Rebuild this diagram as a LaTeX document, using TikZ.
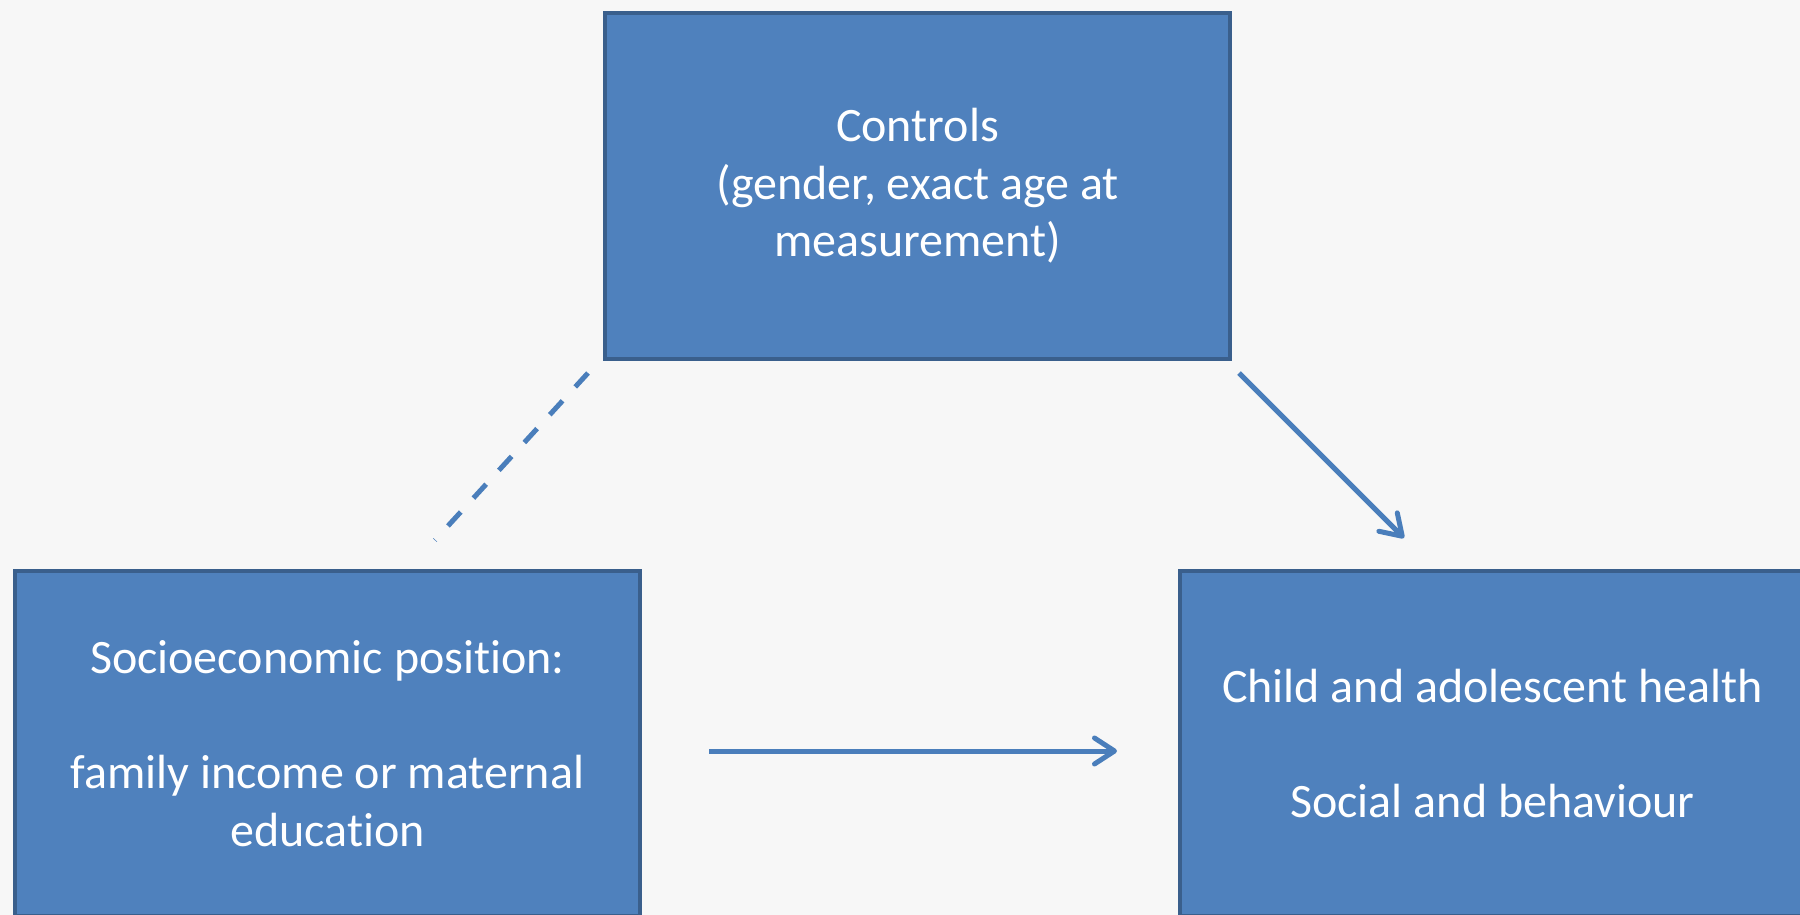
\documentclass[tikz,border=0pt]{standalone}
\usepackage{fontspec}
\setmainfont[Ligatures={NoCommon}]{Carlito}
\usetikzlibrary{arrows.meta}
\definecolor{bg}{HTML}{F7F7F7}
\definecolor{boxfill}{HTML}{4F81BD}
\definecolor{boxline}{HTML}{3A5F8C}
\definecolor{arrowcol}{HTML}{4A7EBB}
\tikzset{
  varbox/.style={draw=boxline, fill=boxfill, line width=4pt, rectangle,
    minimum width=625pt, minimum height=345pt, inner sep=0pt,
    align=center, text=white, font=\fontsize{48}{57.5}\selectfont},
  link/.style={draw=arrowcol, line width=5pt},
  linkarrow/.style={link, -{Straight Barb[length=20pt,width=26pt,round]}},
  linkdash/.style={link, dash pattern=on 18.85pt off 18.85pt},
}
\begin{document}
\begin{tikzpicture}[x=1pt,y=-1pt]
\useasboundingbox[fill=bg] (0,0) rectangle (1800,915);
\node[varbox] (ctrl) at (917.5,186) {Controls\\(gender, exact age at\\measurement)};
\node[varbox] (sep) at (327.5,743.5) {Socioeconomic position:\\[57.5pt]family income or maternal\\education};
\node[varbox] (out) at (1492.5,743.5) {Child and adolescent health\\[57.5pt]Social and behaviour};
\coordinate (d1) at (588,373);
\coordinate (d2) at (434.9,540.2);
\coordinate (r1) at (1239,373);
\coordinate (r2) at (1404,538);
\coordinate (h1) at (709,751);
\coordinate (h2) at (1117,751);
\draw[linkdash] (d1) -- (d2);
\draw[linkarrow] (r1) -- (r2);
\draw[linkarrow] (h1) -- (h2);
\end{tikzpicture}
\end{document}
